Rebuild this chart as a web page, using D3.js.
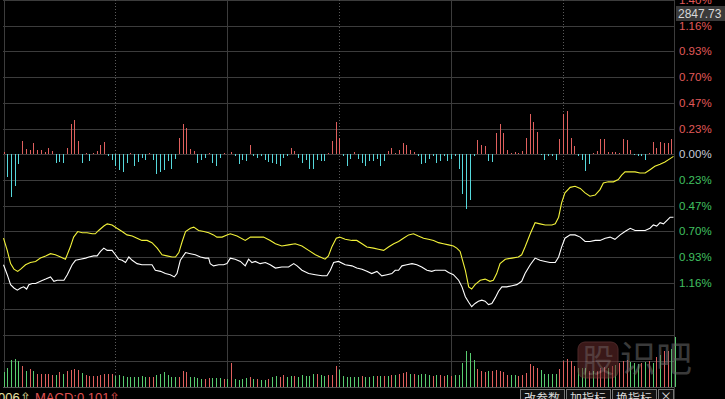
<!DOCTYPE html>
<html>
<head>
<meta charset="utf-8">
<script src="https://cdn.jsdelivr.net/npm/d3@7"></script>
<style>
body { margin: 0; background: #000; }
svg { display: block; background: #000; }
.grid { stroke: #3c3c3c; stroke-width: 1; shape-rendering: crispEdges; }
.dotted { stroke: #5a5a5a; stroke-dasharray: 1,2; }
.bar { stroke-width: 1; shape-rendering: crispEdges; }
.line { fill: none; stroke-width: 1.1; }
.axis-label { font-family: "Liberation Sans", Arial, sans-serif; font-size: 11.5px; }
.btn-text { font-family: "Noto Sans CJK SC", sans-serif; font-size: 12px; fill: #d8d8d8; }
</style>
</head>
<body>
<svg width="725" height="399"></svg>
<script>
//Histogram around the zero line, one value per minute slot (percent).
var hist = [0.02, -0.21, -0.39, -0.29, -0.09, 0.12, 0.05, 0.04, 0.10, 0.04,
	0.04, 0.02, 0.06, 0.03, -0.08, -0.07, -0.08, 0.06, 0.27, 0.31,
	0.12, -0.08, 0.01, -0.06, 0.01, 0.03, 0.08, 0.11, -0.02, -0.05,
	-0.11, -0.14, -0.16, -0.08, 0.01, -0.11, -0.07, -0.03, -0.05, 0.01,
	-0.05, -0.18, -0.16, -0.14, -0.06, -0.13, -0.04, 0.15, 0.27, 0.24,
	0.05, 0.03, -0.08, -0.05, -0.03, 0.01, -0.08, -0.11, -0.03, 0.01,
	0, 0.02, -0.02, -0.09, -0.05, -0.06, 0.08, -0.02, -0.03, -0.02,
	-0.05, -0.07, -0.08, -0.09, -0.11, -0.03, -0.02, 0.06, 0.03, -0.03,
	-0.08, -0.05, -0.13, -0.13, -0.05, -0.06, -0.06, 0.01, 0.12, 0.29,
	0.15, -0.02, -0.11, -0.04, 0.02, -0.04, -0.08, -0.11, -0.06, -0.06,
	-0.04, -0.11, -0.06, 0.03, 0.06, 0.01, 0.04, 0.10, 0.08, 0.04,
	0.02, -0.02, -0.09, -0.08, -0.04, -0.02, -0.08, -0.06, -0.02, -0.06,
	-0.04, -0.02, -0.13, -0.36, -0.50, -0.41, -0.02, 0.13, 0.08, 0.07,
	-0.06, -0.07, 0.19, 0.27, 0.19, 0.04, 0.01, 0.02, 0.01, 0.03,
	0.15, 0.36, 0.29, 0.20, -0.01, -0.05, -0.02, -0.02, -0.05, 0.14,
	0.36, 0.39, 0.15, 0.07, -0.02, -0.05, -0.15, -0.09, 0.01, 0.03,
	0.14, 0.14, 0.02, 0.02, 0.02, 0.01, 0.14, 0.13, 0.04, -0.01,
	-0.02, -0.02, -0.05, 0.01, 0.11, 0.06, 0.11, 0.10, 0.10, 0.14];

//Volume per slot and whether the slot closed up (1, red) or down (0, green).
var vol = [147, 190, 273, 283, 257, 207, 163, 183, 157, 133,
	133, 133, 133, 123, 123, 147, 133, 157, 173, 183,
	167, 140, 117, 113, 113, 113, 123, 133, 133, 133,
	113, 123, 113, 97, 100, 100, 100, 107, 100, 97,
	97, 123, 133, 147, 123, 100, 100, 100, 163, 147,
	100, 97, 90, 83, 83, 90, 90, 90, 90, 83,
	83, 240, 80, 73, 83, 90, 97, 80, 83, 73,
	73, 83, 100, 113, 100, 123, 97, 107, 113, 100,
	123, 113, 113, 133, 133, 123, 113, 123, 123, 207,
	167, 113, 100, 100, 100, 97, 113, 100, 100, 113,
	113, 113, 107, 113, 123, 123, 133, 140, 147, 133,
	133, 123, 133, 133, 123, 113, 123, 123, 113, 123,
	113, 123, 123, 243, 363, 337, 273, 180, 157, 147,
	157, 157, 173, 157, 147, 123, 123, 123, 113, 123,
	140, 233, 207, 190, 173, 133, 133, 133, 133, 183,
	263, 280, 263, 213, 190, 190, 190, 157, 157, 157,
	190, 197, 190, 207, 217, 240, 263, 273, 247, 240,
	233, 240, 247, 257, 240, 300, 323, 357, 357, 380,
	497];
var volUp = [0, 0, 0, 0, 0, 1, 0, 1, 0, 1,
	1, 1, 1, 1, 0, 1, 0, 1, 1, 1,
	1, 0, 1, 1, 1, 1, 1, 1, 1, 1,
	0, 0, 0, 0, 0, 0, 0, 0, 0, 1,
	1, 0, 0, 0, 0, 0, 0, 1, 1, 1,
	0, 0, 0, 0, 1, 1, 0, 0, 0, 1,
	0, 1, 0, 0, 0, 0, 1, 0, 1, 0,
	0, 1, 0, 0, 1, 1, 0, 0, 1, 0,
	0, 0, 0, 0, 1, 0, 0, 1, 1, 1,
	0, 0, 0, 0, 0, 0, 1, 0, 0, 0,
	1, 0, 1, 0, 1, 0, 1, 1, 1, 0,
	1, 0, 0, 0, 0, 1, 0, 1, 1, 0,
	1, 0, 0, 0, 0, 0, 0, 1, 1, 1,
	0, 1, 1, 1, 1, 1, 0, 0, 1, 1,
	1, 1, 1, 1, 0, 0, 0, 0, 0, 1,
	1, 1, 1, 1, 0, 0, 0, 1, 0, 1,
	1, 1, 0, 1, 0, 1, 1, 1, 0, 0,
	0, 1, 0, 1, 0, 1, 0, 1, 1, 0,
	0];

//Two curves as [slot, percent] pairs.
var yellowLine = [[0,-0.76],[1,-0.87],[1.9,-0.99],[2.8,-1.04],[3.8,-1.06],[4.6,-1.04],[5.9,-1.00],[7.2,-0.98],[8.6,-0.97],[9.9,-0.94],
	[11.3,-0.92],[12.6,-0.90],[13.9,-0.91],[15.3,-0.93],[16.6,-0.95],[17.9,-0.84],[18.8,-0.75],[19.9,-0.70],[21.1,-0.71],[22.4,-0.71],
	[23.8,-0.72],[24.6,-0.72],[25.5,-0.69],[26.9,-0.65],[27.8,-0.63],[29.1,-0.64],[30.4,-0.67],[31.8,-0.70],[33.1,-0.73],[34.5,-0.74],
	[35.8,-0.76],[37.1,-0.78],[38.5,-0.78],[39.8,-0.80],[41.2,-0.85],[42.5,-0.91],[43.8,-0.92],[45.2,-0.93],[46.1,-0.93],[47,-0.89],
	[47.9,-0.79],[48.8,-0.70],[50.1,-0.67],[51,-0.66],[52.3,-0.69],[53.7,-0.70],[55,-0.71],[56.3,-0.73],[57.2,-0.75],[58.6,-0.75],
	[59.9,-0.73],[60.8,-0.72],[62.6,-0.74],[64.8,-0.78],[66.2,-0.75],[67.9,-0.75],[69.7,-0.75],[71.5,-0.78],[72.9,-0.81],[74.6,-0.83],
	[76.4,-0.82],[78.2,-0.81],[80,-0.83],[81.8,-0.87],[83.6,-0.91],[84.9,-0.93],[86.2,-0.95],[87.1,-0.92],[88,-0.84],[89.2,-0.76],
	[90.1,-0.75],[91.6,-0.77],[93.4,-0.78],[94.7,-0.78],[96.1,-0.81],[97.4,-0.84],[99.2,-0.85],[100.5,-0.86],[101.9,-0.87],[103.2,-0.84],
	[104.6,-0.81],[105.9,-0.79],[107.2,-0.76],[108.6,-0.73],[109.9,-0.72],[111.2,-0.74],[112.6,-0.76],[113.9,-0.77],[115.3,-0.78],[116.6,-0.80],
	[117.9,-0.81],[119.3,-0.82],[120.6,-0.83],[121.5,-0.85],[122.4,-0.88],[123.3,-0.99],[123.8,-1.05],[124.7,-1.20],[125.5,-1.22],[126.4,-1.18],
	[127.8,-1.14],[129.1,-1.13],[130.4,-1.15],[131.3,-1.14],[132.2,-1.08],[133.1,-0.99],[134.5,-0.95],[136.3,-0.94],[138,-0.93],[138.9,-0.91],
	[139.8,-0.84],[141.2,-0.72],[142.5,-0.62],[143.8,-0.63],[145.2,-0.64],[147,-0.64],[147.9,-0.63],[148.8,-0.57],[149.6,-0.44],[150.5,-0.35],
	[151.9,-0.30],[153.2,-0.29],[154.6,-0.31],[155.9,-0.35],[157.2,-0.38],[158.6,-0.37],[159.9,-0.32],[160.8,-0.26],[162.1,-0.25],[163.5,-0.25],
	[164.8,-0.23],[165.7,-0.19],[166.6,-0.16],[168,-0.16],[169.3,-0.16],[170.6,-0.17],[172,-0.17],[173.3,-0.14],[174.6,-0.11],[176,-0.09],
	[177.3,-0.07],[178.7,-0.04],[179.6,-0.02]];
var whiteLine = [[0,-1.00],[1,-1.09],[1.9,-1.18],[2.8,-1.21],[3.7,-1.23],[4.6,-1.21],[5.4,-1.20],[6.2,-1.22],[6.8,-1.18],[7.7,-1.17],
	[8.6,-1.17],[9.9,-1.15],[11.3,-1.13],[12.6,-1.11],[13.5,-1.15],[14.4,-1.14],[15.3,-1.14],[16.2,-1.14],[17.1,-1.09],[18.4,-1.00],
	[19.3,-0.96],[20.6,-0.95],[22,-0.94],[22.9,-0.93],[24.2,-0.92],[25.1,-0.92],[26,-0.88],[26.9,-0.85],[27.8,-0.87],[29.1,-0.87],
	[30,-0.91],[30.9,-0.95],[31.8,-0.96],[32.7,-0.98],[33.6,-0.93],[34.5,-0.96],[35.8,-0.99],[37.1,-1.00],[38.5,-1.00],[39.8,-1.00],
	[40.7,-1.05],[42.1,-1.06],[43.4,-1.08],[44.7,-1.09],[45.8,-1.11],[46.5,-1.08],[47.4,-0.96],[48.8,-0.89],[50.1,-0.90],[51.4,-0.91],
	[52.8,-0.93],[54.1,-0.94],[55,-0.94],[55.4,-0.99],[56.3,-1.01],[57.7,-1.00],[59,-1.00],[59.9,-0.99],[60.8,-0.94],[62.1,-0.95],
	[63.5,-0.97],[64.8,-1.01],[65.7,-0.95],[66.6,-0.98],[67.5,-0.97],[68.8,-0.99],[70.2,-0.98],[71.5,-1.00],[72.9,-1.03],[74.6,-1.02],
	[76.4,-1.02],[77.8,-0.99],[78.7,-1.01],[80,-1.05],[81.8,-1.08],[83.6,-1.09],[85.4,-1.10],[86.7,-1.10],[87.6,-1.05],[88.5,-0.98],
	[89.8,-0.97],[91.6,-1.00],[93.4,-1.01],[94.7,-1.03],[96.1,-1.04],[97.4,-1.06],[98.7,-1.08],[100.1,-1.06],[101.4,-1.10],[102.8,-1.09],
	[104.1,-1.08],[105,-1.05],[105.9,-1.05],[106.8,-1.01],[108.1,-1.00],[109.5,-0.99],[110.8,-1.00],[112.1,-1.02],[113.5,-1.05],[114.8,-1.06],
	[115.7,-1.05],[117.1,-1.05],[118.4,-1.05],[119.3,-1.07],[120.6,-1.09],[122,-1.14],[122.9,-1.20],[123.8,-1.29],[124.7,-1.34],[125.5,-1.38],
	[126.4,-1.35],[127.3,-1.33],[128.2,-1.32],[129.1,-1.33],[130,-1.36],[130.9,-1.35],[131.8,-1.30],[132.7,-1.24],[133.6,-1.20],[134.9,-1.20],
	[136.3,-1.19],[137.6,-1.18],[138.9,-1.15],[139.8,-1.08],[141.2,-1.00],[142.5,-0.94],[143.8,-0.96],[145.2,-0.97],[146.5,-0.98],[147.9,-0.98],
	[148.8,-0.93],[149.6,-0.84],[150.5,-0.76],[151.9,-0.73],[153.2,-0.73],[154.6,-0.75],[155.9,-0.79],[157.2,-0.79],[158.6,-0.78],[159.9,-0.78],
	[161.3,-0.76],[162.6,-0.75],[163.9,-0.77],[165.3,-0.73],[166.6,-0.70],[168,-0.67],[169.3,-0.69],[170.6,-0.69],[172,-0.69],[173.3,-0.67],
	[174.2,-0.64],[175.1,-0.65],[176,-0.62],[176.9,-0.63],[177.8,-0.60],[178.7,-0.57],[179.6,-0.57]];

//Right hand axis: values (percent) and their printed labels.
var tickVals = [1.395, 1.1625, 0.93, 0.6975, 0.465, 0.2325, 0, -0.2325, -0.465, -0.6975, -0.93, -1.1625];
var tickLabels = ['1.40%', '1.16%', '0.93%', '0.70%', '0.47%', '0.23%', '0.00%', '0.23%', '0.47%', '0.70%', '0.93%', '1.16%'];
var refPrice = '2847.73';
var volGrid = [0, 260, 520, 780];
var buttons = ['改参数', '加指标', '换指标'];

var svg = d3.select('svg');

//Scales. 181 slots across the plot, percent scale on top, volume below.
var xScale = d3.scaleLinear().domain([0, 180]).range([3.5, 675]);
var yScale = d3.scaleLinear().domain([-1.395, 1.395]).range([308.4, 0]);
var volScale = d3.scaleLinear().domain([0, 780]).range([387, 309]);
var px = function(v) { return Math.round(v) + 0.5; };

//Horizontal grid in the percent panel.
var gridVals = d3.range(-5, 7).map(function(k) { return k * 0.2325; });
svg.selectAll('.hgrid').data(gridVals).enter().append('line')
	.attr('class', 'grid')
	.attr('x1', 3).attr('x2', 674)
	.attr('y1', function(d) { return px(yScale(d)); })
	.attr('y2', function(d) { return px(yScale(d)); });
//Horizontal grid in the volume panel.
svg.selectAll('.vgrid').data(volGrid).enter().append('line')
	.attr('class', 'grid')
	.attr('x1', 3).attr('x2', 674)
	.attr('y1', function(d) { return px(volScale(d)); })
	.attr('y2', function(d) { return px(volScale(d)); })
	.style('stroke', function(d) { return d === 0 ? '#555' : null; });

//Vertical grid: solid every hour, dotted at the half hour.
var vLines = d3.range(0, 181, 30);
svg.selectAll('.vline').data(vLines).enter().append('line')
	.attr('class', function(d) { return (d / 30) % 2 ? 'grid dotted' : 'grid'; })
	.attr('x1', function(d) { return px(Math.min(xScale(d), 673.6)); })
	.attr('x2', function(d) { return px(Math.min(xScale(d), 673.6)); })
	.attr('y1', 0).attr('y2', function(d) { return d === 180 ? 399 : 387; });

//Histogram bars.
svg.selectAll('.hbar').data(hist).enter().append('line')
	.attr('class', 'bar')
	.attr('x1', function(d, i) { return px(xScale(i)); })
	.attr('x2', function(d, i) { return px(xScale(i)); })
	.attr('y1', yScale(0))
	.attr('y2', function(d) { return yScale(d); })
	.style('stroke', function(d) { return d >= 0 ? '#e0605e' : '#56d8dc'; });

//Volume bars.
svg.selectAll('.vbar').data(vol).enter().append('line')
	.attr('class', 'bar')
	.attr('x1', function(d, i) { return px(xScale(i)); })
	.attr('x2', function(d, i) { return px(xScale(i)); })
	.attr('y1', volScale(0))
	.attr('y2', function(d) { return volScale(d); })
	.style('stroke', function(d, i) { return volUp[i] ? '#e0605e' : '#58cc70'; });

//Curves.
var line = d3.line()
	.x(function(d) { return xScale(d[0]); })
	.y(function(d) { return yScale(d[1]); });
svg.append('path').datum(yellowLine).attr('class', 'line').attr('d', line).style('stroke', '#f2f23a');
svg.append('path').datum(whiteLine).attr('class', 'line').attr('d', line).style('stroke', '#ffffff');

//Right axis labels.
svg.selectAll('.tick-label').data(tickVals).enter().append('text')
	.attr('class', 'axis-label')
	.attr('x', 679)
	.attr('y', function(d) { return yScale(d) + 4; })
	.style('fill', function(d) { return d > 0 ? '#e05a5a' : (d < 0 ? '#40c060' : '#c8ccd8'); })
	.text(function(d, i) { return tickLabels[i]; });
svg.append('rect')
	.attr('x', 676).attr('y', 6).attr('width', 49).attr('height', 15)
	.style('fill', '#3a3a3a');
svg.append('text')
	.attr('class', 'axis-label')
	.attr('x', 678).attr('y', 18)
	.style('font-size', '12px')
	.style('fill', '#d8d8d8')
	.text(refPrice);

//Watermark.
var wm = svg.append('g').style('opacity', 0.55);
wm.append('rect').attr('x', 578).attr('y', 342).attr('width', 40).attr('height', 36).attr('rx', 7)
	.style('fill', '#6a2c2c').style('stroke', '#8a4a4a');
wm.append('text').attr('x', 598).attr('y', 372).attr('text-anchor', 'middle')
	.style('font-family', '"Noto Sans CJK SC", sans-serif').style('font-size', '32px').style('fill', '#9a7070')
	.text('股');
wm.append('text').attr('x', 620).attr('y', 372)
	.style('font-family', '"Noto Sans CJK SC", sans-serif').style('font-size', '36px').style('fill', '#6a6a6a')
	.text('识吧');

//Bottom strip with indicator caption and buttons.
svg.append('text').attr('x', -2).attr('y', 402)
	.style('font-family', '"Liberation Sans", Arial, sans-serif').style('font-size', '13px').style('fill', '#e8e0a0')
	.text('006⇧');
svg.append('text').attr('x', 35).attr('y', 402)
	.style('font-family', '"Liberation Sans", Arial, sans-serif').style('font-size', '13px').style('fill', '#e05050')
	.text('MACD:0.101⇧');
var bx = [520, 566, 612];
buttons.forEach(function(b, i) {
	svg.append('rect').attr('x', bx[i] + 0.5).attr('y', 389.5).attr('width', 44).attr('height', 14)
		.style('fill', '#111').style('stroke', '#777');
	svg.append('text').attr('class', 'btn-text').attr('x', bx[i] + 22).attr('y', 403).attr('text-anchor', 'middle').text(b);
});
svg.append('rect').attr('x', 658.5).attr('y', 389.5).attr('width', 15).attr('height', 14)
	.style('fill', '#111').style('stroke', '#777');
svg.append('text').attr('class', 'btn-text').attr('x', 666).attr('y', 401).attr('text-anchor', 'middle').text('×');
</script>
</body>
</html>
